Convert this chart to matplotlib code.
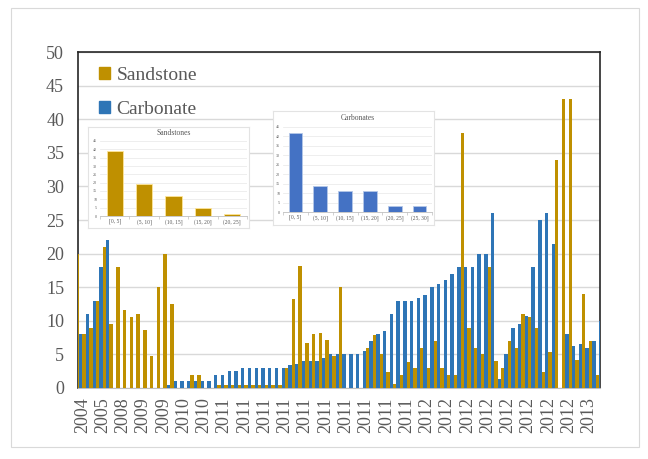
import matplotlib
matplotlib.use("Agg")
import matplotlib.pyplot as plt
from matplotlib.patches import Patch, Rectangle
import numpy as np

plt.rcParams['font.family'] = 'Liberation Serif'

GOLD = '#BF9000'
BLUE = '#2E75B6'
TEXT = '#595959'

# one pair of bars per period; first and last entries are only partly inside the plot
carbonate = [0, 8, 11, 13, 18, 22, 0, 0, 0, 0, 0, 0, 0, 0, 0.5, 1, 1, 1, 1, 1, 1,
             2, 2, 2.5, 2.5, 3, 3, 3, 3, 3, 3, 3, 3.4, 3.5, 4, 4, 4, 4.5, 5, 5, 5,
             5, 5, 5.5, 7, 8, 8.5, 11, 13, 13, 13, 13.4, 13.9, 15, 15.5, 16, 17, 18, 18, 18, 20,
             20, 26, 1.3, 5, 9, 9.5, 10.7, 18, 25, 26, 21.5, 0, 8, 6.3, 6.5, 5.9, 7, 10]
sandstone = [20, 8, 9, 13, 21, 9.5, 18, 11.6, 10.5, 11, 8.6, 4.8, 15, 20, 12.5, 0, 0, 2, 2, 0,
             0, 0.5, 0.5, 0.5, 0.5, 0.5, 0.5, 0.5, 0.5, 0.5, 0.5, 3, 13.2, 18.2, 6.7, 8.1, 8.2, 7.2, 4.7, 15,
             0, 0, 0, 6, 7.9, 5, 2.4, 0.6, 2, 3.9, 3, 6, 3, 7, 3, 2, 2, 38, 9, 6,
             5, 18, 4, 3, 7, 6, 11, 10.5, 9, 2.4, 5.3, 34, 43, 43, 4.1, 14, 7, 2, 0]

# every third period is labelled
year_labels = (['2004', '2005', '2008', '2009', '2009', '2010', '2010']
               + ['2011'] * 10 + ['2012'] * 8 + ['2013'])

sand_bins = ['[0, 5]', '(5, 10]', '(10, 15]', '(15, 20]', '(20, 25]']
sand_counts = [39, 19, 12, 5, 1]
carb_bins = ['[0, 5]', '(5, 10]', '(10, 15]', '(15, 20]', '(20, 25]', '(25, 30]']
carb_counts = [42, 14, 11, 11, 3, 3]

W, H = 648, 459
fig = plt.figure(figsize=(W / 100, H / 100), dpi=100)

# light outer frame around the whole chart
fig.patches.append(Rectangle((11 / W, 1 - 447 / H), (639 - 11) / W, (447 - 8) / H,
                             transform=fig.transFigure, fill=False,
                             edgecolor='#D9D9D9', linewidth=0.8))


def px_axes(left, top, right, bottom):
    return fig.add_axes([left / W, 1 - bottom / H, (right - left) / W, (bottom - top) / H])


ax = px_axes(78, 52, 600, 388)
x = np.arange(len(carbonate))
ax.bar(x - 0.25, carbonate, width=0.5, color=BLUE, label='Carbonate', zorder=3)
ax.bar(x + 0.25, sandstone, width=0.5, color=GOLD, label='Sandstone', zorder=3)

ax.set_xlim(0.35, len(carbonate) - 1 - 0.35)
ax.set_ylim(0, 50)
ax.set_yticks(np.arange(0, 51, 5))
ax.set_xticks(x[1::3][:len(year_labels)])
ax.set_xticklabels(year_labels, rotation=90)
ax.tick_params(axis='both', length=0, labelsize=13, colors=TEXT)
ax.tick_params(axis='y', pad=10)
ax.tick_params(axis='x', pad=6.5)
ax.grid(axis='y', color='#D9D9D9', linewidth=1.0, zorder=0)
ax.set_axisbelow(True)
for side in ['top', 'left', 'right']:
    ax.spines[side].set_color('#262626')
    ax.spines[side].set_linewidth(1.2)
ax.spines['bottom'].set_color('#BFBFBF')

handles = [Patch(color=GOLD), Patch(color=BLUE)]
ax.legend(handles, ['Sandstone', 'Carbonate'], loc='upper left',
          bbox_to_anchor=(99 / W, 1 - 67 / H), bbox_transform=fig.transFigure,
          frameon=False, fontsize=14, labelcolor=TEXT, handlelength=0.55,
          handleheight=0.55, handletextpad=0.35, labelspacing=0.85, borderpad=0,
          borderaxespad=0)


def inset(box, inner, title, title_y, bins, counts, color, edge):
    frame = px_axes(*box)
    frame.set_xticks([])
    frame.set_yticks([])
    for s in frame.spines.values():
        s.set_color('#E3E3E3')
        s.set_linewidth(0.8)
    iax = px_axes(*inner)
    pos = np.arange(len(bins))
    iax.bar(pos, counts, width=0.55, color=color, edgecolor=edge, linewidth=0.6, zorder=3)
    iax.set_xlim(-0.5, len(bins) - 0.5)
    iax.set_ylim(0, 45)
    iax.set_yticks(np.arange(0, 46, 5))
    iax.set_xticks(pos)
    iax.set_xticklabels(bins)
    iax.set_xticks(np.arange(-0.5, len(bins), 1), minor=True)
    iax.tick_params(axis='x', which='major', length=0, labelsize=4, colors=TEXT, pad=2)
    iax.tick_params(axis='x', which='minor', length=2, color='#BFBFBF', width=0.5)
    iax.tick_params(axis='y', length=0, labelsize=3, colors=TEXT, pad=2)
    iax.grid(axis='y', color='#E7E7E7', linewidth=0.5, zorder=0)
    iax.set_axisbelow(True)
    for side in ['top', 'left', 'right']:
        iax.spines[side].set_visible(False)
    iax.spines['bottom'].set_color('#BFBFBF')
    iax.spines['bottom'].set_linewidth(0.6)
    fig.text((inner[0] + inner[2]) / 2 / W, 1 - title_y / H, title, ha='center',
             va='center', fontsize=5.5, color=TEXT)


inset((88, 127, 249, 228), (100, 141, 247, 216), 'Sandstones', 133,
      sand_bins, sand_counts, GOLD, '#FFE699')
inset((273, 111, 434, 225), (283, 127, 432, 212), 'Carbonates', 118,
      carb_bins, carb_counts, '#4472C4', '#B4C7E7')

fig.savefig('out.png', dpi=100)
